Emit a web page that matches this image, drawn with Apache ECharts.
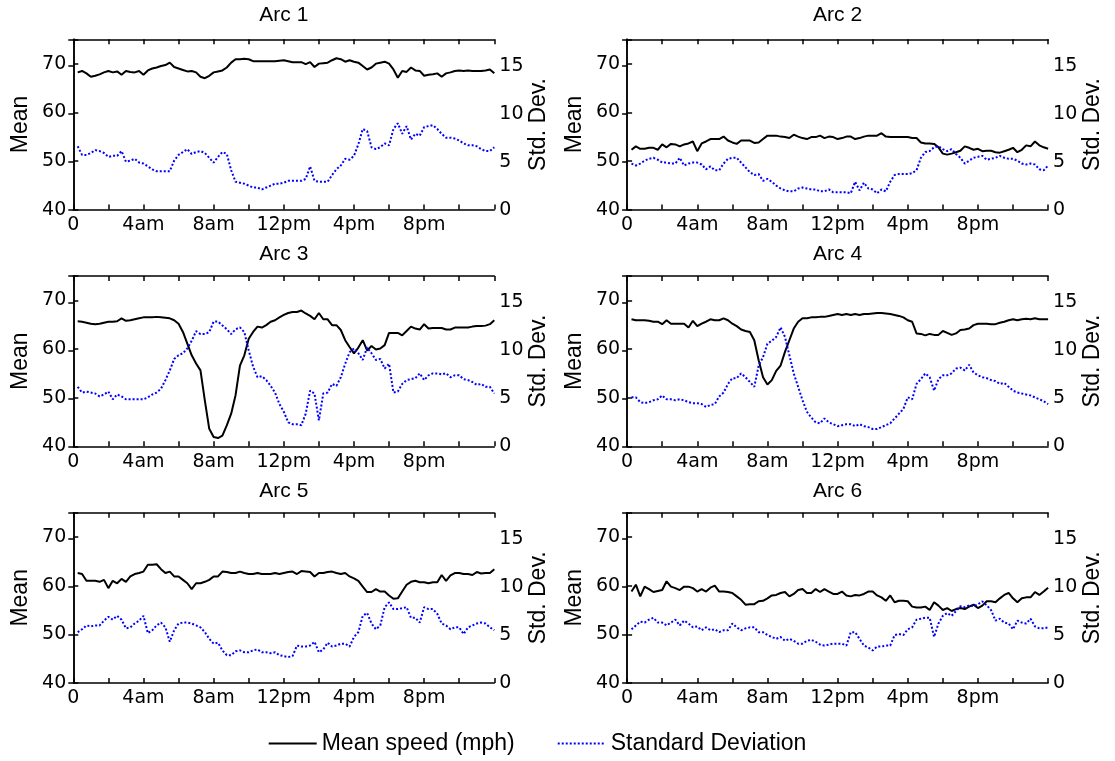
<!DOCTYPE html>
<html>
<head>
<meta charset="utf-8">
<script src="https://cdn.jsdelivr.net/npm/echarts@6/dist/echarts.min.js"></script>
<style>
  html, body { margin: 0; padding: 0; background: #fff; }
  #chart { width: 1115px; height: 761px; }
</style>
</head>
<body>
<div id="chart"></div>
<script>
// samples every 15 minutes, first one at 0:15, last one at 24:00
const STEP_H = 0.25;

const TICK_LABELS = { 0: '0', 4: '4am', 8: '8am', 12: '12pm', 16: '4pm', 20: '8pm' };
const MEAN_TICKS = [40, 50, 60, 70];
const STD_TICKS = [0, 5, 10, 15];
const LEGEND_NAMES = ['Mean speed (mph)', 'Standard Deviation'];
const TITLES = ['Arc 1', 'Arc 2', 'Arc 3', 'Arc 4', 'Arc 5', 'Arc 6'];

// ====================================
// DATA (one row = 2 hours)
// ====================================
const ARC1_MEAN = [
  68.2, 68.5, 68.0, 67.3, 67.5, 67.8, 68.2, 68.5,
  68.2, 68.4, 67.7, 68.5, 68.3, 68.2, 68.5, 67.7,
  68.6, 69.0, 69.2, 69.5, 69.7, 70.2, 69.3, 69.0,
  68.7, 68.4, 68.5, 68.2, 67.3, 67.0, 67.5, 68.2,
  68.4, 68.6, 69.2, 70.2, 70.9, 70.9, 71.0, 70.9,
  70.5, 70.5, 70.5, 70.5, 70.5, 70.5, 70.6, 70.7,
  70.5, 70.3, 70.3, 70.3, 69.9, 70.3, 69.3, 70.0,
  70.1, 70.2, 70.7, 71.1, 70.9, 70.4, 70.7, 70.4,
  70.2, 69.5, 68.8, 69.2, 70.0, 70.2, 70.4, 70.0,
  68.8, 67.1, 68.5, 68.3, 69.2, 68.6, 68.5, 67.5,
  67.7, 67.8, 68.0, 67.3, 68.0, 68.2, 68.5, 68.6,
  68.5, 68.6, 68.5, 68.5, 68.5, 68.6, 68.8, 68.0
];
const ARC1_STD = [
  6.6, 5.7, 5.7, 5.9, 6.2, 6.1, 5.9, 5.5,
  5.6, 5.6, 6.1, 5.0, 5.1, 5.3, 4.9, 4.8,
  4.5, 4.2, 4.0, 4.0, 4.0, 4.0, 5.1, 5.7,
  6.0, 6.3, 5.8, 6.0, 6.1, 5.9, 5.4, 4.9,
  5.5, 6.0, 5.8, 4.1, 2.9, 2.8, 2.7, 2.5,
  2.3, 2.3, 2.1, 2.3, 2.5, 2.7, 2.7, 2.8,
  3.0, 3.0, 3.0, 3.0, 3.2, 4.5, 3.0, 2.9,
  2.9, 2.9, 3.6, 4.2, 4.6, 5.3, 5.2, 5.6,
  6.8, 8.4, 8.2, 6.5, 6.3, 6.5, 6.9, 6.7,
  8.4, 9.0, 7.9, 8.7, 7.3, 7.9, 7.7, 8.6,
  8.7, 8.8, 8.4, 7.9, 7.5, 7.5, 7.4, 7.2,
  6.9, 6.7, 6.7, 6.6, 6.3, 6.1, 6.1, 6.5
];

const ARC2_MEAN = [
  52.3, 53.0, 52.5, 52.5, 52.7, 52.7, 52.3, 53.4,
  52.8, 53.5, 53.4, 53.0, 53.4, 53.6, 54.0, 52.0,
  53.6, 54.0, 54.5, 54.5, 54.5, 55.0, 54.2, 53.8,
  53.5, 54.2, 54.2, 54.2, 53.7, 53.8, 54.5, 55.2,
  55.2, 55.2, 55.0, 54.9, 54.7, 55.4, 55.0, 54.7,
  54.5, 54.9, 54.9, 55.2, 54.7, 55.0, 54.9, 54.5,
  54.7, 55.0, 55.0, 54.5, 54.7, 55.0, 55.2, 55.2,
  55.2, 55.7, 55.0, 54.9, 54.9, 54.9, 54.9, 54.9,
  54.7, 54.7, 53.8, 53.6, 53.6, 53.5, 52.8, 51.5,
  51.3, 51.5, 51.8, 52.1, 53.0, 52.7, 52.3, 52.5,
  52.0, 52.1, 52.1, 51.8, 51.7, 52.0, 52.3, 52.7,
  51.8, 52.3, 53.2, 53.0, 54.0, 53.2, 52.8, 52.5
];
const ARC2_STD = [
  4.8, 4.6, 4.8, 5.1, 5.3, 5.4, 5.2, 4.9,
  4.9, 4.8, 4.8, 5.4, 4.6, 4.8, 4.9, 4.9,
  4.7, 4.2, 4.5, 4.1, 4.1, 4.8, 5.3, 5.4,
  5.4, 4.9, 4.4, 3.9, 3.6, 3.7, 3.0, 3.2,
  2.9, 2.5, 2.2, 2.0, 1.9, 1.9, 2.2, 2.3,
  2.2, 2.1, 2.1, 1.9, 1.9, 2.1, 1.8, 1.8,
  1.8, 1.8, 1.7, 2.9, 2.0, 2.8, 2.2, 2.1,
  1.7, 2.1, 1.9, 2.9, 3.6, 3.7, 3.7, 3.7,
  3.8, 4.1, 5.4, 6.0, 6.1, 6.5, 6.6, 6.3,
  6.1, 6.3, 5.8, 5.4, 4.8, 5.1, 5.4, 5.5,
  5.6, 5.2, 5.3, 5.4, 5.6, 5.4, 5.3, 5.3,
  5.1, 4.8, 4.7, 4.8, 4.7, 4.2, 4.1, 4.6
];

const ARC3_MEAN = [
  65.7, 65.6, 65.4, 65.2, 65.1, 65.2, 65.4, 65.6,
  65.6, 65.7, 66.3, 65.8, 65.9, 66.1, 66.3, 66.5,
  66.5, 66.5, 66.6, 66.5, 66.4, 66.3, 65.9, 65.2,
  63.5, 61.1, 58.7, 57.0, 55.6, 49.4, 43.6, 41.9,
  41.7, 42.2, 44.3, 46.7, 50.5, 56.6, 58.7, 62.1,
  63.5, 64.6, 64.4, 64.9, 65.6, 65.9, 66.5, 67.0,
  67.4, 67.6, 67.6, 67.9, 67.3, 66.8, 66.1, 67.4,
  66.1, 66.1, 64.9, 64.9, 63.9, 61.8, 60.4, 59.1,
  60.3, 61.8, 59.7, 60.6, 59.9, 60.1, 60.8, 63.3,
  63.3, 63.3, 62.8, 63.7, 64.6, 64.2, 64.0, 65.1,
  64.2, 64.3, 64.3, 64.3, 64.0, 64.0, 64.4, 64.4,
  64.4, 64.4, 64.6, 64.7, 64.7, 64.8, 65.1, 65.9
];
const ARC3_STD = [
  6.2, 5.6, 5.7, 5.6, 5.5, 5.2, 5.4, 5.7,
  4.9, 5.4, 5.2, 4.9, 4.9, 4.9, 4.9, 4.9,
  5.1, 5.4, 5.6, 6.0, 6.9, 7.9, 9.1, 9.5,
  9.7, 10.2, 11.0, 12.0, 11.7, 11.7, 11.9, 13.0,
  13.0, 12.6, 12.2, 11.7, 12.2, 12.4, 11.9, 10.0,
  8.3, 7.2, 7.3, 6.9, 6.3, 5.6, 4.4, 3.6,
  2.5, 2.3, 2.3, 2.2, 3.4, 5.8, 5.5, 2.7,
  5.5, 5.6, 6.5, 6.3, 7.2, 8.6, 9.8, 10.2,
  9.7, 9.0, 10.3, 9.7, 9.0, 9.1, 8.1, 8.6,
  5.6, 5.7, 6.5, 6.9, 7.0, 7.1, 7.6, 6.9,
  7.4, 7.6, 7.6, 7.5, 7.6, 7.2, 7.4, 7.4,
  7.0, 6.9, 6.7, 6.4, 6.5, 6.2, 6.2, 5.5
];

const ARC4_MEAN = [
  66.1, 65.9, 65.9, 65.9, 65.8, 65.6, 65.6, 65.1,
  65.9, 65.2, 65.2, 65.2, 65.2, 64.4, 65.8, 64.7,
  65.2, 65.6, 66.1, 65.9, 65.9, 66.3, 65.9, 65.2,
  64.7, 64.0, 63.7, 63.5, 61.8, 57.7, 54.2, 52.7,
  53.6, 55.5, 56.6, 59.4, 61.8, 64.2, 65.6, 66.3,
  66.3, 66.5, 66.5, 66.6, 66.6, 66.8, 67.0, 67.2,
  67.0, 67.2, 67.0, 67.2, 67.0, 67.2, 67.2, 67.3,
  67.4, 67.4, 67.3, 67.2, 67.0, 66.8, 66.5, 65.9,
  65.6, 63.2, 63.1, 62.8, 63.1, 62.9, 62.9, 63.7,
  63.3, 62.9, 63.2, 63.9, 64.0, 64.2, 64.9, 65.2,
  65.2, 65.2, 65.1, 65.1, 65.4, 65.6, 65.9, 66.1,
  65.9, 66.1, 66.2, 66.1, 66.3, 66.1, 66.1, 66.1
];
const ARC4_STD = [
  5.1, 5.1, 4.6, 4.5, 4.6, 4.8, 4.9, 5.3,
  4.9, 4.9, 4.8, 4.9, 4.8, 4.6, 4.5, 4.5,
  4.4, 4.1, 4.3, 4.4, 5.2, 5.6, 6.5, 7.1,
  7.1, 7.6, 7.2, 6.7, 6.2, 8.4, 9.3, 10.7,
  11.0, 11.4, 12.4, 11.4, 9.5, 7.6, 6.2, 4.8,
  3.6, 3.0, 2.5, 2.4, 2.9, 2.5, 2.3, 2.1,
  2.2, 2.3, 2.3, 2.1, 2.3, 2.1, 2.0, 1.8,
  1.8, 2.0, 2.2, 2.4, 2.9, 3.4, 3.9, 5.1,
  4.9, 6.5, 7.0, 7.6, 7.2, 5.8, 7.0, 7.4,
  7.4, 7.6, 8.1, 8.2, 7.9, 8.5, 7.7, 7.4,
  7.2, 7.1, 6.9, 6.8, 6.5, 6.6, 6.2, 5.8,
  5.6, 5.5, 5.4, 5.3, 5.1, 4.9, 4.7, 4.4
];

const ARC5_MEAN = [
  62.6, 62.4, 61.0, 61.0, 61.0, 60.8, 61.2, 59.5,
  61.0, 60.5, 61.4, 60.8, 61.9, 62.4, 62.6, 62.9,
  64.3, 64.3, 64.4, 63.4, 62.6, 62.9, 61.9, 61.9,
  61.2, 60.5, 59.3, 60.5, 60.5, 60.8, 61.2, 61.9,
  61.9, 62.9, 62.8, 62.6, 62.6, 62.9, 62.6, 62.4,
  62.4, 62.6, 62.4, 62.4, 62.4, 62.6, 62.4, 62.6,
  62.8, 62.9, 62.4, 63.0, 62.9, 62.8, 61.9, 62.6,
  62.6, 62.8, 62.9, 62.6, 62.4, 62.6, 61.9, 61.5,
  61.0, 59.8, 58.7, 58.7, 59.3, 58.8, 58.8, 58.0,
  57.3, 57.4, 58.8, 60.2, 60.8, 61.0, 60.7, 60.7,
  60.5, 60.7, 60.7, 62.2, 61.0, 62.1, 62.6, 62.6,
  62.4, 62.4, 62.2, 62.8, 62.5, 62.6, 62.6, 63.4
];
const ARC5_STD = [
  5.3, 5.6, 6.0, 5.9, 6.0, 6.0, 6.5, 6.9,
  6.6, 7.0, 6.6, 5.7, 5.8, 6.2, 6.5, 7.0,
  5.2, 5.5, 6.0, 6.3, 5.8, 4.3, 5.5, 6.2,
  6.3, 6.3, 6.2, 6.0, 5.8, 5.3, 4.6, 4.1,
  4.2, 3.4, 2.9, 2.9, 3.3, 3.4, 3.2, 3.2,
  3.4, 3.5, 3.2, 3.2, 3.1, 3.2, 2.9, 2.8,
  2.7, 2.8, 3.9, 3.8, 3.8, 3.9, 4.3, 3.2,
  3.5, 4.2, 3.8, 3.9, 4.1, 4.1, 3.8, 4.8,
  5.3, 7.0, 7.3, 6.2, 5.6, 6.0, 7.9, 8.4,
  7.7, 7.7, 7.8, 7.9, 6.8, 6.8, 6.3, 7.9,
  7.7, 7.7, 7.2, 6.2, 6.0, 5.6, 5.8, 5.8,
  5.1, 5.8, 6.0, 6.2, 6.3, 6.2, 5.8, 5.5
];

const ARC6_MEAN = [
  58.8, 60.2, 57.8, 59.8, 59.3, 58.7, 58.9, 59.1,
  60.9, 59.8, 59.5, 59.1, 59.8, 59.8, 59.5, 58.8,
  59.3, 58.8, 59.6, 60.0, 58.8, 58.8, 58.7, 58.5,
  57.8, 57.1, 56.1, 56.2, 56.2, 56.8, 56.9, 57.4,
  58.0, 58.1, 58.5, 58.7, 57.8, 58.3, 59.1, 59.3,
  58.5, 58.5, 59.3, 58.7, 59.3, 58.8, 58.3, 58.3,
  58.8, 58.0, 57.8, 58.1, 58.0, 58.3, 58.8, 58.8,
  58.0, 57.6, 56.9, 58.0, 56.6, 56.9, 56.9, 56.8,
  55.7, 55.5, 55.5, 55.7, 55.0, 56.6, 55.9, 55.0,
  55.4, 54.8, 55.2, 55.4, 55.2, 55.7, 56.1, 55.4,
  55.9, 56.8, 56.8, 56.6, 57.4, 58.1, 58.5, 57.4,
  56.6, 57.4, 57.6, 57.6, 58.7, 58.1, 58.8, 59.6
];
const ARC6_STD = [
  5.6, 6.0, 6.4, 6.3, 6.6, 6.8, 6.3, 6.3,
  6.0, 6.3, 6.6, 6.0, 6.5, 6.2, 5.8, 5.9,
  5.5, 5.8, 5.5, 5.6, 5.3, 5.5, 5.5, 6.2,
  5.8, 5.5, 5.7, 5.8, 5.8, 5.3, 5.3, 5.0,
  4.8, 4.6, 4.8, 4.4, 4.6, 4.4, 4.1, 4.1,
  4.4, 4.5, 4.3, 4.0, 3.9, 4.0, 4.1, 4.1,
  4.1, 3.9, 5.3, 5.3, 4.6, 3.9, 3.7, 3.4,
  3.8, 3.8, 3.9, 3.9, 5.0, 5.1, 5.0, 5.6,
  5.8, 6.6, 6.7, 6.8, 6.8, 4.8, 6.2, 7.0,
  7.3, 7.0, 7.5, 8.0, 7.9, 8.1, 8.0, 8.2,
  8.5, 8.1, 7.6, 6.5, 6.7, 6.3, 6.2, 5.6,
  6.5, 6.3, 6.2, 6.7, 5.9, 5.7, 5.7, 5.8
];

const MEANS = [ARC1_MEAN, ARC2_MEAN, ARC3_MEAN, ARC4_MEAN, ARC5_MEAN, ARC6_MEAN];
const STDS = [ARC1_STD, ARC2_STD, ARC3_STD, ARC4_STD, ARC5_STD, ARC6_STD];

// ====================================
// LAYOUT
// ====================================
const FONT = '"Liberation Sans", Arial, sans-serif';
const TICK_FONT = '"DejaVu Sans", "Liberation Sans", sans-serif';
const GRID_LEFT = [73.3, 627.1];
const GRID_TOP = [39.3, 276, 512.7];
const GRID_W = 421;
const GRID_H = 170.3;
const TITLE_TOP = [4.5, 243.5, 480.5];

// ====================================
// HELPERS
// ====================================
function toPairs(values) {
  return values.map((v, i) => [(i + 1) * STEP_H, v]);
}

function axisBase(extra) {
  return Object.assign({
    type: 'value',
    axisLine: { show: true, lineStyle: { color: '#000', width: 1.5 } },
    axisTick: { show: true, inside: true, length: 5, lineStyle: { color: '#000', width: 1.5 } },
    splitLine: { show: false }
  }, extra);
}

function tickLabel(margin, formatter) {
  return { color: '#000', fontSize: 19, fontFamily: TICK_FONT, margin, formatter };
}

// ====================================
// BUILD
// ====================================
const grids = [], xAxes = [], yAxes = [], series = [], titles = [];

TITLES.forEach((name, i) => {
  const col = i % 2;
  const row = Math.floor(i / 2);
  const left = GRID_LEFT[col];
  const top = GRID_TOP[row];

  grids.push({ left, top, width: GRID_W, height: GRID_H, containLabel: false });

  titles.push({
    text: name,
    left: left + GRID_W / 2,
    top: TITLE_TOP[row],
    textAlign: 'center',
    padding: 0,
    textStyle: { fontSize: 21, fontWeight: 'normal', color: '#000', fontFamily: FONT }
  });

  xAxes.push(axisBase({
    gridIndex: i, position: 'bottom', min: 0, max: 24, interval: 2,
    axisLabel: tickLabel(6, v => TICK_LABELS[v] || '')
  }));
  xAxes.push(axisBase({
    gridIndex: i, position: 'top', min: 0, max: 24, interval: 2,
    axisLabel: { show: false }
  }));

  yAxes.push(axisBase({
    gridIndex: i, position: 'left', min: 40, max: 75, interval: 10,
    name: 'Mean', nameLocation: 'middle', nameGap: 41,
    nameTextStyle: { fontSize: 23, color: '#000', fontFamily: FONT },
    axisLabel: tickLabel(7, v => MEAN_TICKS.includes(v) ? String(v) : '')
  }));
  yAxes.push(axisBase({
    gridIndex: i, position: 'right', min: 0, max: 17.75, interval: 5,
    name: 'Std. Dev.', nameLocation: 'middle', nameGap: 33,
    nameTextStyle: { fontSize: 23, color: '#000', fontFamily: FONT },
    axisLabel: tickLabel(5, v => STD_TICKS.includes(v) ? String(v) : '')
  }));

  series.push({
    name: LEGEND_NAMES[0], type: 'line',
    xAxisIndex: 2 * i, yAxisIndex: 2 * i,
    data: toPairs(MEANS[i]),
    symbol: 'none', showSymbol: false,
    lineStyle: { color: '#000', width: 2 },
    itemStyle: { color: '#000' }
  });
  series.push({
    name: LEGEND_NAMES[1], type: 'line',
    xAxisIndex: 2 * i, yAxisIndex: 2 * i + 1,
    data: toPairs(STDS[i]),
    symbol: 'none', showSymbol: false,
    lineStyle: { color: '#0000ff', width: 2, type: [2, 2] },
    itemStyle: { color: '#0000ff' }
  });
});

const chart = echarts.init(document.getElementById('chart'), null, { renderer: 'canvas' });
chart.setOption({
  animation: false,
  backgroundColor: '#fff',
  textStyle: { fontFamily: FONT },
  title: titles,
  legend: {
    data: LEGEND_NAMES,
    left: 267.7, top: 732, padding: 0,
    itemWidth: 48, itemHeight: 14, itemGap: 42,
    itemStyle: { opacity: 0 },
    textStyle: { fontSize: 23, color: '#000', fontFamily: FONT }
  },
  grid: grids,
  xAxis: xAxes,
  yAxis: yAxes,
  series: series
});
window.addEventListener('resize', () => chart.resize());
</script>
</body>
</html>
